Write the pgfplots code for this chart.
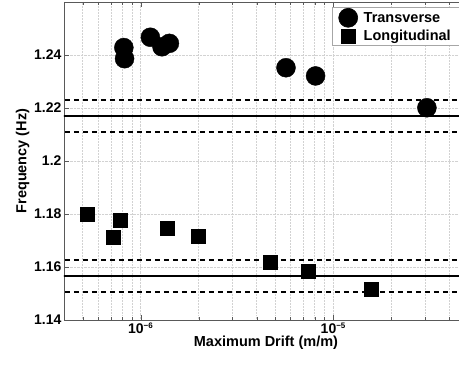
\documentclass[border=0pt]{standalone}
\usepackage{fontspec}
\setmainfont{Liberation Sans}
\usepackage{pgfplots}
\pgfplotsset{compat=1.18}
\begin{document}
\begin{tikzpicture}
\begin{semilogxaxis}[
  scale only axis,
  width=404pt, height=318pt,
  xmin=4e-7, xmax=5e-5,
  ymin=1.14, ymax=1.26,
  xtick={1e-6,1e-5},
  xticklabels={{10\textsuperscript{\fontsize{8}{9}\selectfont−6}},{10\textsuperscript{\fontsize{8}{9}\selectfont−5}}},
  minor xtick={4e-7,5e-7,6e-7,7e-7,8e-7,9e-7,2e-6,3e-6,4e-6,5e-6,6e-6,7e-6,8e-6,9e-6,2e-5,3e-5,4e-5,5e-5},
  ytick={1.14,1.16,1.18,1.2,1.22,1.24},
  /pgf/number format/assume math mode=true,
  tick label style={font=\fontsize{14}{16}\selectfont\bfseries},
  label style={font=\fontsize{14.5}{16}\selectfont\bfseries},
  xlabel={Maximum Drift (m/m)},
  ylabel={Frequency (Hz)},
  xlabel style={yshift=4pt},
  ylabel style={yshift=-2pt},
  xticklabel style={yshift=1pt},
  yticklabel style={xshift=1pt},
  xmajorgrids, xminorgrids, ymajorgrids,
  grid style={densely dotted, gray!35, line width=0.5pt},
  minor grid style={densely dotted, gray!35, line width=0.5pt},
  axis line style={gray!70!black, line width=0.8pt},
  major tick length=5pt, minor tick length=3pt,
  tick style={gray!70!black},
  legend style={at={(1,1)}, anchor=north east, xshift=-5pt, yshift=-5pt,
    draw=gray!70, line width=0.6pt, font=\fontsize{14.5}{16}\selectfont\bfseries,
    row sep=1pt, inner xsep=6pt, inner ysep=1pt,
    nodes={inner xsep=6pt}},
  legend cell align=left,
  clip=true,
]
\addplot[only marks, mark=*, mark size=9.5pt, black] coordinates {
  (8.18e-7,1.2428) (8.25e-7,1.2386) (1.123e-6,1.2467) (1.29e-6,1.2431)
  (1.41e-6,1.2444) (5.68e-6,1.2352) (8.09e-6,1.2321) (3.06e-5,1.2201)
};
\addlegendentry{Transverse}
\addplot[only marks, mark=square*, mark size=7pt, black] coordinates {
  (5.31e-7,1.1799) (7.23e-7,1.1712) (7.87e-7,1.1777) (1.38e-6,1.1746)
  (1.99e-6,1.1718) (4.69e-6,1.1618) (7.41e-6,1.1586) (1.58e-5,1.1517)
};
\addlegendentry{Longitudinal}
\addplot[black, line width=2.2pt, forget plot] coordinates {(1e-7,1.2170) (1e-3,1.2170)};
\addplot[black, line width=2pt, dash pattern=on 5.5pt off 3.5pt, forget plot] coordinates {(1e-7,1.2230) (1e-3,1.2230)};
\addplot[black, line width=2pt, dash pattern=on 5.5pt off 3.5pt, forget plot] coordinates {(1e-7,1.2109) (1e-3,1.2109)};
\addplot[black, line width=2.2pt, forget plot] coordinates {(1e-7,1.1567) (1e-3,1.1567)};
\addplot[black, line width=2pt, dash pattern=on 5.5pt off 3.5pt, forget plot] coordinates {(1e-7,1.1626) (1e-3,1.1626)};
\addplot[black, line width=2pt, dash pattern=on 5.5pt off 3.5pt, forget plot] coordinates {(1e-7,1.1507) (1e-3,1.1507)};
\coordinate (o) at (rel axis cs:0,0);
\coordinate (t) at (rel axis cs:1,1);
\end{semilogxaxis}
\pgfresetboundingbox
\path[use as bounding box] ([xshift=-64pt,yshift=-51pt]o) rectangle ([xshift=-9pt,yshift=2pt]t);
\end{tikzpicture}
\end{document}
